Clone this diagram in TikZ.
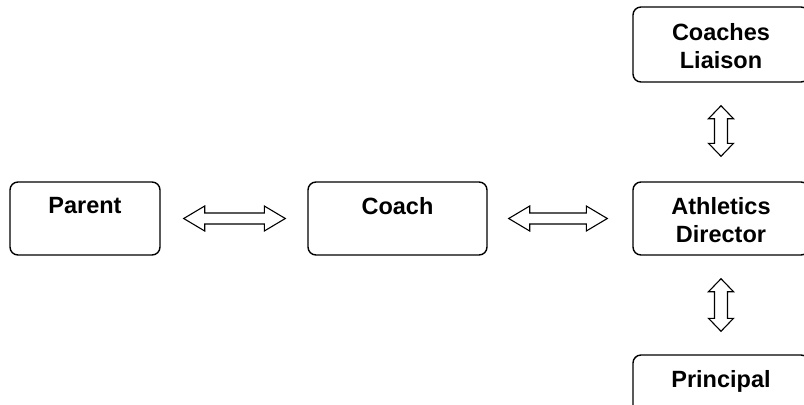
\documentclass[tikz,border=0pt]{standalone}
\usepackage{fontspec}
\setmainfont{Liberation Sans}
\usetikzlibrary{calc}
\tikzset{
  box/.style={draw, line width=1.4bp, rounded corners=8bp, minimum height=73bp, inner sep=0pt},
  boxtext/.style={anchor=north, inner sep=0pt, align=center, font=\fontsize{23.5bp}{28bp}\selectfont\bfseries},
  blk/.style={draw, line width=1.1bp, line join=miter, fill=white}
}
\newcommand{\harrow}[2]{%
  \draw[blk] let \p1=(#1), \p2=(#2) in
    (\x1,\y1) -- (\x1+21bp,\y1+12.5bp) -- (\x1+21bp,\y1+5.5bp) -- (\x2-21bp,\y1+5.5bp)
    -- (\x2-21bp,\y1+12.5bp) -- (\x2,\y1) -- (\x2-21bp,\y1-12.5bp) -- (\x2-21bp,\y1-5.5bp)
    -- (\x1+21bp,\y1-5.5bp) -- (\x1+21bp,\y1-12.5bp) -- cycle;}
\newcommand{\varrow}[2]{%
  \draw[blk] let \p1=(#1), \p2=(#2) in
    (\x1,\y1) -- (\x1+12.5bp,\y1-13bp) -- (\x1+6.5bp,\y1-13bp) -- (\x1+6.5bp,\y2+13bp)
    -- (\x1+12.5bp,\y2+13bp) -- (\x1,\y2) -- (\x1-12.5bp,\y2+13bp) -- (\x1-6.5bp,\y2+13bp)
    -- (\x1-6.5bp,\y1-13bp) -- (\x1-12.5bp,\y1-13bp) -- cycle;}
\begin{document}
\begin{tikzpicture}[x=1bp, y=-1bp]
\path[use as bounding box] (0,0) rectangle (804,404);
\clip (0,0) rectangle (804,404);
% boxes
\node[box, minimum width=150bp] (parent) at (85,218.5) {};
\node[box, minimum width=179bp] (coach) at (397.5,218.5) {};
\node[box, minimum width=176bp] (ad) at (721,218.5) {};
\node[box, minimum width=176bp, minimum height=75bp] (liaison) at (721,44.5) {};
\node[box, minimum width=176bp, minimum height=75bp] (principal) at (721,392.5) {};
% texts
\node[boxtext] (tparent) at ($(parent.north)+(0,16)$) {Parent};
\node[boxtext] (tcoach) at ($(coach.north)+(0,16)$) {Coach};
\node[boxtext] (tad) at ($(ad.north)+(0,16)$) {Athletics\\Director};
\node[boxtext] (tliaison) at ($(liaison.north)+(0,17)$) {Coaches\\Liaison};
\node[boxtext] (tprincipal) at ($(principal.north)+(0,16)$) {Principal};
% connector end points
\coordinate (a1s) at ($(parent.east)+(23,0)$);
\coordinate (a1e) at ($(coach.west)+(-22,0)$);
\coordinate (a2s) at ($(coach.east)+(21,0)$);
\coordinate (a2e) at ($(ad.west)+(-25,0)$);
\coordinate (v1s) at ($(liaison.south)+(0,23)$);
\coordinate (v1e) at ($(ad.north)+(0,-25)$);
\coordinate (v2s) at ($(ad.south)+(0,23)$);
\coordinate (v2e) at ($(principal.north)+(0,-23)$);
\harrow{a1s}{a1e}
\harrow{a2s}{a2e}
\varrow{v1s}{v1e}
\varrow{v2s}{v2e}
\end{tikzpicture}
\end{document}
